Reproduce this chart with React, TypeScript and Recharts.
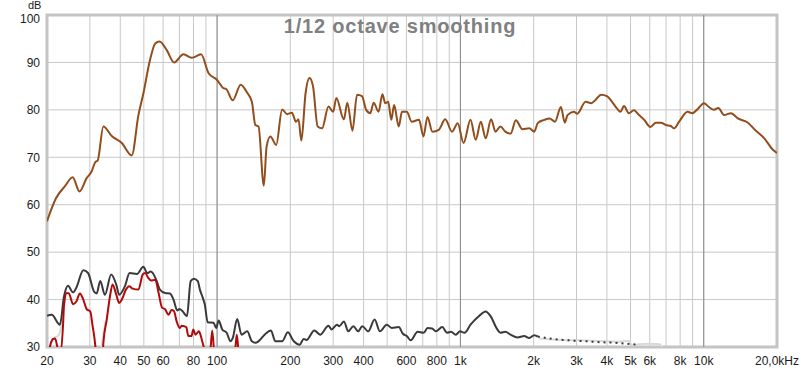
import React from 'react';
import {
  CartesianGrid,
  Line,
  LineChart,
  ReferenceArea,
  ReferenceLine,
  XAxis,
  YAxis,
} from 'recharts';

// [frequency Hz, level dB]
const brownCurve: [number, number][] = [
  [20, 56.5], [21.8, 61.4], [23.7, 63.9], [25.5, 65.8], [27.2, 62.8], [29.1, 65.6],
  [30.5, 67.0], [31.6, 69.0], [32.3, 69.3], [34.1, 76.5], [36.9, 74.5], [40.6, 73.0],
  [44.6, 70.4], [47.5, 78.9], [49.8, 83.5], [53, 90.5], [55.7, 94.0], [58, 94.4],
  [62.1, 92.6], [66.6, 90.0], [72.8, 91.7], [78.8, 91.0], [85.9, 91.7], [92.3, 87.7],
  [100, 86.3], [106, 84.6], [109, 84.4], [116, 82.0], [125, 85.3], [133, 83.6],
  [139, 81.7], [143.6, 76.8], [148, 76.5], [155.6, 64.0], [159.8, 72.3], [165.6, 74.4],
  [175, 72.6], [185, 80.1], [194, 79.1], [203, 79.4], [211, 77.5], [216, 78],
  [222, 73.5], [231, 83.5], [240, 86.7], [248, 84.9], [259, 76.5], [270, 76.1],
  [287, 80.7], [300, 79.6], [309, 82.5], [332, 78.0], [343, 81.5], [360, 75.6],
  [376, 83.2], [394, 82.9], [410, 80.0], [426, 79.3], [440, 81.5], [461, 79.6],
  [478, 83.3], [491, 81.4], [505, 81.7], [520, 77.9], [534, 81.0], [558, 76.5],
  [575, 79.6], [602, 79.6], [631, 77.5], [676, 77.9], [705, 74.4], [732, 78.5],
  [767, 75.4], [815, 75.8], [866, 78.0], [924, 75.4], [975, 77.2], [1030, 73.0],
  [1100, 77.9], [1156, 73.7], [1213, 77.5], [1270, 74.0], [1337, 78.0], [1394, 75.4],
  [1460, 76.5], [1530, 75.4], [1608, 75], [1690, 77.8], [1798, 75.9], [1918, 76.1],
  [2012, 75.4], [2078, 77.2], [2215, 77.9], [2323, 78.2], [2448, 77.5], [2588, 80.6],
  [2685, 77.3], [2755, 78.9], [2927, 79.6], [3020, 79.2], [3270, 81.7], [3450, 81.4],
  [3590, 82.1], [3787, 83.2], [4000, 82.9], [4200, 81.7], [4340, 80.7], [4550, 79.6],
  [4700, 80.8], [4920, 79.3], [5160, 79.9], [5420, 78.9], [5690, 77.9], [6030, 76.4],
  [6360, 77.3], [6670, 77.3], [6990, 76.8], [7320, 76.6], [7550, 76.1], [7920, 77.5],
  [8570, 79.6], [8980, 79.3], [9420, 80.1], [10020, 81.4], [10500, 80.6], [11010, 80],
  [11480, 80.4], [12120, 78.9], [12940, 79.3], [13800, 78.2], [15200, 77.3],
  [16220, 75.8], [17730, 74.0], [19240, 71.6], [20000, 70.9],
];

const darkCurve: [number, number][] = [
  [20, 36.6], [20.9, 36.8], [22.6, 34.7], [23.5, 40.7], [24.4, 42.9], [25.6, 41.5],
  [26.4, 42.5], [28.2, 46.2], [29.5, 45.6], [31.2, 41.7], [32, 41.3], [33.1, 43.9],
  [34.6, 41.0], [36.7, 45.3], [38.5, 43.2], [39.6, 41.0], [41.8, 42.8], [43.7, 45.6],
  [46.8, 45.4], [49.8, 46.9], [51.6, 45.6], [53.4, 45.9], [56.2, 44.2], [58.2, 42.1],
  [61.2, 41.4], [64, 41.3], [66.2, 40.0], [68.6, 37.7], [70, 38], [72, 37.6],
  [75.2, 36.5], [77.9, 43.9], [80.3, 44.4], [83.3, 43.9], [85, 42.1], [87.3, 40.4],
  [89, 39], [91.5, 35.2], [96.7, 35.1], [99.2, 34.0], [101.5, 35.6], [105, 33.7],
  [109.5, 33.0], [113.5, 31.2], [116, 31.9], [121, 35.9], [126, 32.6], [133, 33.3],
  [139, 31.2], [143.6, 30.9], [148, 31.2], [156.8, 32.6], [166.5, 33.5], [173.4, 31.2],
  [185, 31.2], [195.3, 33.1], [206.6, 31.2], [218.6, 30.5], [227, 31.7], [233, 31.5],
  [251, 33.5], [265, 32.6], [287, 34.5], [295, 33.7], [311, 34.7], [318, 34.4],
  [332, 35.4], [346, 33.3], [363, 34.4], [380, 33.3], [395, 34.4], [418, 33.3],
  [444, 35.8], [467, 33.3], [498, 34.7], [523, 34], [558, 34.2], [580, 32.8],
  [602, 32.3], [625, 31.4], [667, 33.2], [706, 33.0], [733, 34.0], [765, 33.9],
  [792, 33.3], [842, 34.2], [882, 33], [915, 33.2], [957, 32.6], [997, 33.3],
  [1040, 33], [1100, 34.7], [1190, 36.5], [1270, 37.5], [1330, 36.5], [1418, 33.7],
  [1460, 33.0], [1530, 33.2], [1608, 32.6], [1715, 32.0], [1830, 32.3], [1918, 31.9],
  [2012, 32.5], [2080, 32.2],
];

const darkTail: [number, number][] = [
  [2080, 32.2], [2400, 31.7], [2800, 31.4], [3300, 31.2], [3800, 31.0], [4300, 30.9],
  [4800, 30.7], [5300, 30.5],
];

const redCurve: [number, number][] = [
  [20.2, 27], [20.6, 30.2], [21.2, 31.7], [21.6, 31.8], [22.2, 29.5], [22.8, 29],
  [23.3, 35], [23.5, 39], [24.1, 41.4], [24.6, 41.3], [25.6, 39.0], [26.4, 39.6],
  [27.3, 41.3], [28.2, 40.0], [29.1, 38.0], [30.1, 37.5], [30.8, 34.4], [31.6, 30.2],
  [32.2, 24], [33.5, 24], [34.1, 30.9], [35.2, 35.8], [36.3, 40.7], [37.2, 43.2],
  [38.5, 41.1], [39.6, 39.3], [40.6, 40], [42.2, 42.1], [43.5, 42.8], [45, 42.3],
  [47.5, 42.1], [49.5, 45.3], [50.6, 45.6], [52.1, 44.6], [53.6, 44], [55.7, 44.2],
  [57.5, 41.4], [59.4, 38.3], [61, 38], [63.2, 36.8], [65, 37.8], [66.5, 37.6],
  [68.2, 35.4], [70.3, 34], [71.5, 34.5], [74.7, 34.2], [76.2, 32.3], [78.5, 32.3],
  [79.8, 33.7], [81.5, 32.6], [84.2, 33.3], [86.5, 31.6], [89, 29], [91, 26],
  [93.5, 28], [95.5, 33.5], [97.5, 28], [100, 25], [110, 24], [116, 26],
  [119, 30], [120.5, 32.6], [122, 30], [124, 26], [130, 24],
];

const lightLow: [number, number][] = [
  [20.3, 29], [20.8, 30.8], [21.5, 32], [22.2, 32.3], [22.8, 34], [23.3, 37.5],
  [23.8, 40.5],
];

const lightMid: [number, number][] = [
  [31.8, 27], [33, 27.5], [33.6, 30.5], [34.2, 33], [34.8, 35.5],
];

const lightHigh: [number, number][] = [
  [2100, 31.8], [2600, 31.5], [3000, 31.4], [3500, 31.3], [4000, 31.2], [4500, 31.1],
  [4900, 31.3], [5100, 30.3], [5400, 30.6], [6000, 30.7], [6600, 30.6], [6800, 29],
];

const gridTicks = [
  20, 30, 40, 50, 60, 70, 80, 90, 100, 200, 300, 400, 500, 600, 700, 800, 900,
  1000, 2000, 3000, 4000, 5000, 6000, 7000, 8000, 9000, 10000, 20000,
];
const tickLabels: Record<number, string> = {
  20: '20', 30: '30', 40: '40', 50: '50', 60: '60', 80: '80', 100: '100',
  200: '200', 300: '300', 400: '400', 600: '600', 800: '800', 1000: '1k',
  2000: '2k', 3000: '3k', 4000: '4k', 5000: '5k', 6000: '6k', 8000: '8k',
  10000: '10k', 20000: '20,0kHz',
};
const dbTicks = [30, 40, 50, 60, 70, 80, 90, 100];
const decadeLines = [100, 1000, 10000];

const toRows = (pts: [number, number][]) => pts.map(([f, db]) => ({ f, db }));

const FONT = '"Liberation Sans", Arial, sans-serif';
const tickStyle = { fontSize: 12, fill: '#1a1a1a', fontFamily: FONT };

// y tick: top label sits a little lower so it clears the unit label
const DbTick = (props: any) => {
  const { x, y, payload } = props;
  const shift = payload.value === 100 ? 4 : 0;
  return (
    <text
      x={x}
      y={y + shift}
      dy='0.355em'
      textAnchor='end'
      fontSize={12}
      fill='#1a1a1a'
      fontFamily={FONT}
    >
      {payload.value}
    </text>
  );
};

export default function App() {
  const series = [
    { name: 'lightLow', pts: lightLow, color: '#d9d9d9', dash: undefined },
    { name: 'lightMid', pts: lightMid, color: '#d9d9d9', dash: undefined },
    { name: 'lightHigh', pts: lightHigh, color: '#d9d9d9', dash: undefined },
    { name: 'darkTail', pts: darkTail, color: '#3a3a3a', dash: '2 4' },
    { name: 'dark', pts: darkCurve, color: '#3a3a3a', dash: undefined },
    { name: 'red', pts: redCurve, color: '#b00a0a', dash: undefined },
    { name: 'brown', pts: brownCurve, color: '#924d1c', dash: undefined },
  ];

  return (
    <div
      style={{
        position: 'absolute',
        left: 0,
        top: 0,
        width: 800,
        height: 368,
        background: '#fff',
        fontFamily: FONT,
      }}
    >
      <LineChart
        width={800}
        height={368}
        margin={{ top: 15, right: 23, bottom: 1, left: 7 }}
      >
        <CartesianGrid stroke='#c8c8c8' strokeWidth={1} />
        <XAxis
          dataKey='f'
          type='number'
          scale='log'
          domain={[20, 20000]}
          allowDataOverflow
          ticks={gridTicks}
          interval={0}
          tickFormatter={(v: number) => tickLabels[v] ?? ''}
          tick={tickStyle}
          tickLine={false}
          axisLine={false}
          tickSize={0}
          tickMargin={9}
          height={20}
        />
        <YAxis
          type='number'
          domain={[30, 100]}
          allowDataOverflow
          ticks={dbTicks}
          interval={0}
          tick={<DbTick />}
          tickLine={false}
          axisLine={false}
          tickSize={0}
          tickMargin={7}
          width={40}
        />
        {decadeLines.map((f) => (
          <ReferenceLine key={f} x={f} stroke='#8a8a8a' strokeWidth={1} />
        ))}
        {series.map((s) => (
          <Line
            key={s.name}
            data={toRows(s.pts)}
            dataKey='db'
            type='monotone'
            stroke={s.color}
            strokeWidth={2}
            strokeDasharray={s.dash}
            dot={false}
            activeDot={false}
            isAnimationActive={false}
          />
        ))}
        <ReferenceArea
          x1={20}
          x2={20000}
          y1={30}
          y2={100}
          fill='none'
          stroke='#c4c4c4'
          strokeWidth={3}
          ifOverflow='visible'
        />
      </LineChart>

      {/* chart title */}
      <div
        style={{
          position: 'absolute',
          left: 0,
          width: 800,
          top: 15,
          textAlign: 'center',
          fontSize: 20,
          fontWeight: 'bold',
          letterSpacing: 0.8,
          color: '#808080',
          lineHeight: 'normal',
        }}
      >
        1/12 octave smoothing
      </div>
      {/* unit label */}
      <div
        style={{
          position: 'absolute',
          left: 28,
          top: 0,
          fontSize: 11,
          color: '#1a1a1a',
          lineHeight: '11px',
        }}
      >
        dB
      </div>
    </div>
  );
}
